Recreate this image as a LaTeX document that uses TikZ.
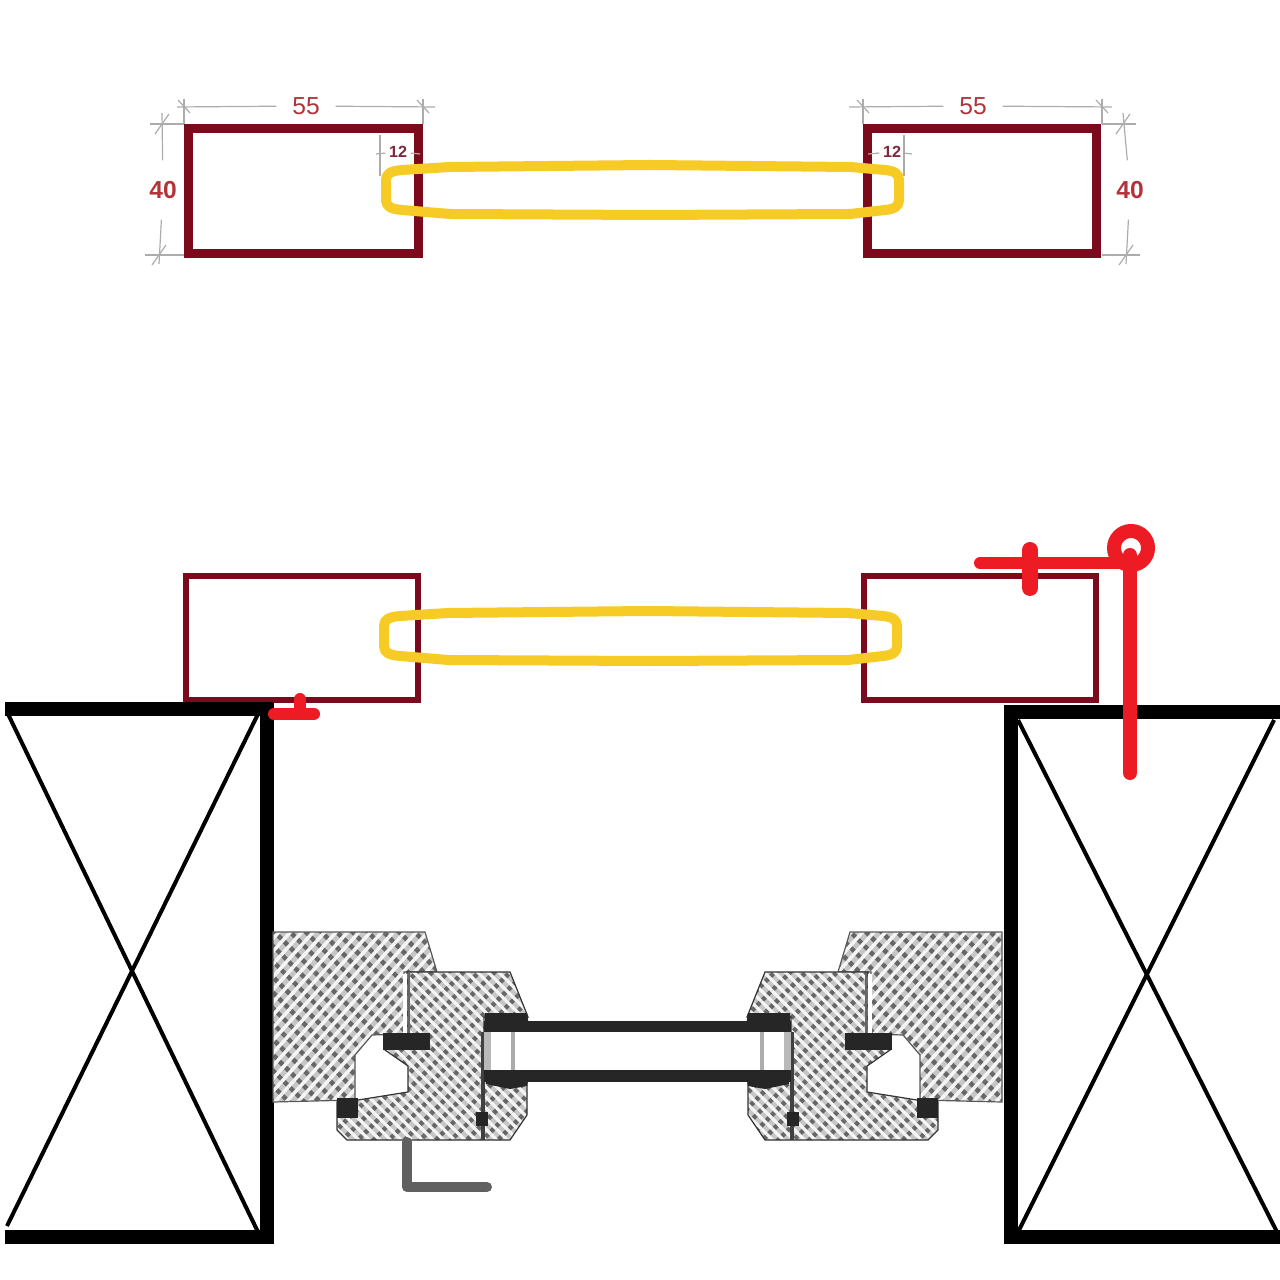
\documentclass[tikz,border=0pt]{standalone}
\usepackage{fontspec}
\setsansfont{Liberation Sans}
\usetikzlibrary{patterns.meta}

\definecolor{tubered}{RGB}{123,10,28}
\definecolor{glassyellow}{RGB}{247,203,38}
\definecolor{markred}{RGB}{237,28,36}
\definecolor{dimred}{RGB}{178,52,58}
\definecolor{dimmaroon}{RGB}{125,40,60}

\tikzset{
    tube/.style={draw=tubered, line width=0.09cm},
    tubethin/.style={draw=tubered, line width=0.06cm},
    glass/.style={draw=glassyellow, line width=0.1cm, line join=round},
    beam/.style={draw=black, line width=0.14cm},
    beamcross/.style={draw=black, line width=0.04cm},
    marker/.style={draw=markred, line cap=round},
    dimline/.style={draw=gray!65, line width=0.012cm},
    dimlabel/.style={font=\sffamily\fontsize{7}{7}\selectfont, text=dimred, minimum size=0.58cm, inner sep=0pt},
    dimsmall/.style={font=\sffamily\bfseries\fontsize{4.6}{5}\selectfont, text=dimmaroon, minimum size=0.24cm, inner sep=0pt},
    framewood/.style={draw=gray!70!black, line width=0.012cm, preaction={fill=gray!45},
        preaction={pattern={Lines[angle=-45,distance=0.11cm,line width=0.045cm]}, pattern color=black!60},
        pattern={Lines[angle=48,distance=0.085cm,line width=0.035cm]}, pattern color=white!92!gray},
    sashwood/.style={draw=gray!40!black, line width=0.012cm, preaction={fill=gray!45},
        preaction={pattern={Lines[angle=45,distance=0.11cm,line width=0.045cm]}, pattern color=black!60},
        pattern={Lines[angle=-45,distance=0.075cm,line width=0.032cm]}, pattern color=white!92!gray},
    seal/.style={fill=black!85, draw=none},
}

\begin{document}
\begin{tikzpicture}[x=0.01cm, y=-0.01cm]

    \useasboundingbox (0,0) rectangle (1280,1280);

    % profiles, top row
    \draw[tube] (188.5,128.5) rectangle (418.5,253.5);
    \draw[tube] (867,128.5) rectangle (1096.5,253.5);

    % profiles, lower row
    \draw[tubethin] (186,576) rectangle (418,700);
    \draw[tubethin] (864,576) rectangle (1096,700);

    % glazing outline, drawn twice
    \foreach \dx/\dy in {0/0,-2/446}
        \draw[glass, shift={(\dx*0.01cm,-\dy*0.01cm)}] (386,180)
            .. controls (386,174) and (390,171) .. (402,170)
            -- (450,167) -- (650,165) -- (850,167) -- (885,170)
            .. controls (895,171) and (899,174) .. (899,180)
            -- (899,200)
            .. controls (899,206) and (895,209) .. (885,210)
            -- (850,214) -- (650,215) -- (450,214) -- (402,210)
            .. controls (390,209) and (386,206) .. (386,200) -- cycle;

    % dimensions, left profile
    \node[dimlabel] (dimTopL) at (306,106) {55};
    \node[dimlabel, font=\sffamily\bfseries\fontsize{7}{7}\selectfont] (dimSideL) at (163,190) {40};
    \node[dimsmall] (dimGapL) at (398,152) {12};
    \coordinate (tlA) at (177,107);
    \coordinate (tlB) at (435,107);
    \coordinate (slA) at (162,113);
    \coordinate (slB) at (159,264);
    \coordinate (glA) at (376,154);
    \coordinate (glB) at (420,154);
    \draw[dimline] (tlA) -- (dimTopL);
    \draw[dimline] (dimTopL) -- (tlB);
    \draw[dimline] (slA) -- (dimSideL);
    \draw[dimline] (dimSideL) -- (slB);
    \draw[dimline] (glA) -- (dimGapL);
    \draw[dimline] (dimGapL) -- (glB);

    % dimensions, right profile
    \node[dimlabel] (dimTopR) at (973,106) {55};
    \node[dimlabel, font=\sffamily\bfseries\fontsize{7}{7}\selectfont] (dimSideR) at (1130,190) {40};
    \node[dimsmall] (dimGapR) at (892,152) {12};
    \coordinate (trA) at (849,107);
    \coordinate (trB) at (1112,107);
    \coordinate (srA) at (1123,113);
    \coordinate (srB) at (1126,264);
    \coordinate (grA) at (868,154);
    \coordinate (grB) at (912,154);
    \draw[dimline] (trA) -- (dimTopR);
    \draw[dimline] (dimTopR) -- (trB);
    \draw[dimline] (srA) -- (dimSideR);
    \draw[dimline] (dimSideR) -- (srB);
    \draw[dimline] (grA) -- (dimGapR);
    \draw[dimline] (dimGapR) -- (grB);

    % witness lines and ticks
    \foreach \x in {184,423,863,1102} {
        \draw[dimline] (\x,99) -- (\x,124);
        \draw[dimline] (\x-6,100) -- (\x+6,113);
    }
    \foreach \xa/\xb in {150/184,1102/1136}
        \draw[dimline] (\xa,124) -- (\xb,124);
    \foreach \xa/\xb in {145/184,1102/1140}
        \draw[dimline] (\xa,255) -- (\xb,255);
    \foreach \x/\y in {162/124,159/255,1123/124,1126/255}
        \draw[dimline] (\x+7,\y-10) -- (\x-7,\y+10);
    \foreach \x in {380,904}
        \draw[dimline] (\x,135) -- (\x,176);

    % beams
    \draw[beamcross] (8,714) -- (258,1232);
    \draw[beamcross] (258,714) -- (7,1226);
    \draw[beamcross] (1018,720) -- (1277,1232);
    \draw[beamcross] (1274,720) -- (1018,1232);
    \draw[beam] (5,709) -- (266.5,709) -- (266.5,1237) -- (5,1237);
    \draw[beam] (1280,712) -- (1010.5,712) -- (1010.5,1237) -- (1280,1237);

    % window section, left and mirrored to the right
    \foreach \offs/\dirn in {0/1,1275/-1} {
    \begin{scope}[xshift=\offs*0.01cm, xscale=\dirn]
        \path[framewood] (273,932) -- (425,932) -- (437,972) -- (404,972) -- (404,1034)
            -- (372,1035) -- (355,1055) -- (355,1100) -- (273,1102) -- cycle;
        \path[sashwood] (407,972) -- (510,972) -- (528,1017) -- (484,1017) -- (484,1080)
            -- (527,1082) -- (527,1115) -- (510,1140) -- (347,1140) -- (337,1130) -- (337,1102)
            -- (358,1100) -- (408,1092) -- (408,1066) -- (385,1050) -- (385,1035) -- (407,1035) -- cycle;
        \draw[black!75, line width=0.035cm] (483,1032) -- (483,1140);
        \draw[gray!80!black, line width=0.02cm] (409,973) -- (409,1033);
        \fill[white] (403,974) rectangle (407,1033);
        \path[seal] (383,1033) rectangle (430,1050);
        \path[seal] (337,1098) rectangle (358,1118);
        \path[seal] (476,1112) rectangle (488,1126);
        \path[seal] (485,1013) -- (527,1013) -- (530,1032) -- (485,1032) -- cycle;
        \path[seal] (486,1070) -- (530,1070) -- (527,1086) -- (510,1089) -- (486,1084) -- cycle;
        \fill[white] (490,1032) rectangle (640,1070);
        \fill[gray!55] (484,1032) rectangle (491,1070);
        \path[seal] (484,1021) rectangle (640,1032);
        \path[seal] (484,1070) rectangle (640,1082);
        \draw[gray!65, line width=0.045cm] (513,1032) -- (513,1070);
    \end{scope}
    }

    % bent bar below the section
    \draw[gray!75!black, line width=0.1cm, line cap=round, line join=round] (407,1142) -- (407,1187) -- (487,1187);

    % red marks
    \draw[marker, line width=0.12cm] (274,714) -- (314,714);
    \draw[marker, line width=0.12cm] (300,699) -- (300,712);
    \draw[marker, line width=0.12cm] (980,563) -- (1130,563);
    \draw[marker, line width=0.16cm] (1030,550) -- (1030,588);
    \draw[marker, line width=0.14cm] (1131,548) circle (17);
    \draw[marker, line width=0.14cm] (1130,555) -- (1130,773);

\end{tikzpicture}
\end{document}
